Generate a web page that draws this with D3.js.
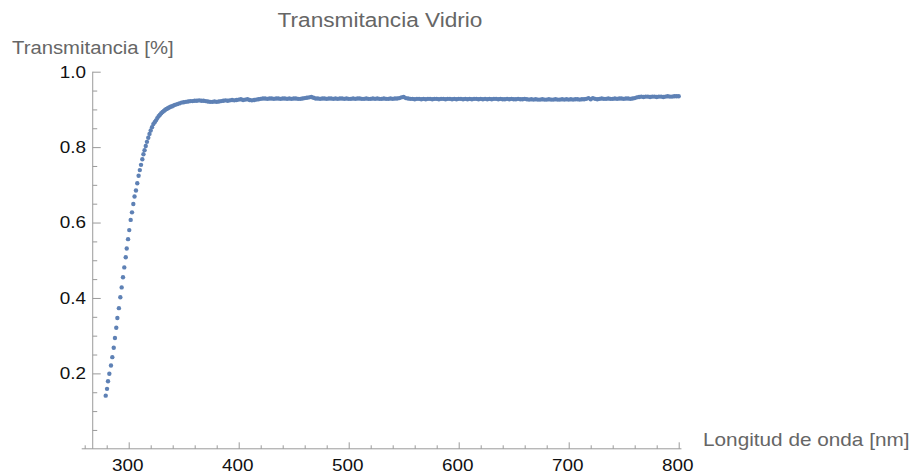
<!DOCTYPE html>
<html>
<head>
<meta charset="utf-8">
<script src="https://cdn.jsdelivr.net/npm/d3@7"></script>
<style>
  body { margin: 0; background: #fff; }
  text { font-family: "Liberation Sans", Arial, sans-serif; }
</style>
</head>
<body>
<div id="chart"></div>
<script>
// rising edge (about 1.2 nm between samples)
const riseWavelength = [279.1, 280.3, 281.2, 282.4, 283.9, 285.1, 286.4, 287.5, 288.7, 289.7,
  291.1, 292.4, 293.6, 294.8, 296.0, 297.3, 298.2, 299.4, 300.5, 301.8,
  303.0, 304.2, 305.3, 306.6, 307.8, 309.0, 310.1, 311.2, 312.4, 313.4,
  314.4, 315.5, 316.6, 317.8, 318.9, 320.0, 321.2, 322.4, 323.6, 324.8,
  326.0, 327.2, 328.4, 329.6, 330.8, 332.0, 333.2, 334.4, 335.6, 336.8,
  338.0, 339.2, 340.4];
const riseTransmittance = [0.141, 0.159, 0.179, 0.199, 0.221, 0.243, 0.268, 0.294, 0.321, 0.347,
  0.373, 0.402, 0.428, 0.455, 0.481, 0.508, 0.531, 0.556, 0.580, 0.607,
  0.627, 0.649, 0.669, 0.685, 0.704, 0.724, 0.739, 0.753, 0.768, 0.781,
  0.792, 0.803, 0.814, 0.825, 0.835, 0.844, 0.853, 0.861, 0.866, 0.871,
  0.877, 0.882, 0.886, 0.890, 0.893, 0.896, 0.899, 0.901, 0.903, 0.905,
  0.907, 0.908, 0.910];

// plateau, every 2 nm
const plateauWavelength = [
  342, 344, 346, 348, 350, 352, 354, 356, 358, 360,
  362, 364, 366, 368, 370, 372, 374, 376, 378, 380,
  382, 384, 386, 388, 390, 392, 394, 396, 398, 400,
  402, 404, 406, 408, 410, 412, 414, 416, 418, 420,
  422, 424, 426, 428, 430, 432, 434, 436, 438, 440,
  442, 444, 446, 448, 450, 452, 454, 456, 458, 460,
  462, 464, 466, 468, 470, 472, 474, 476, 478, 480,
  482, 484, 486, 488, 490, 492, 494, 496, 498, 500,
  502, 504, 506, 508, 510, 512, 514, 516, 518, 520,
  522, 524, 526, 528, 530, 532, 534, 536, 538, 540,
  542, 544, 546, 548, 550, 552, 554, 556, 558, 560,
  562, 564, 566, 568, 570, 572, 574, 576, 578, 580,
  582, 584, 586, 588, 590, 592, 594, 596, 598, 600,
  602, 604, 606, 608, 610, 612, 614, 616, 618, 620,
  622, 624, 626, 628, 630, 632, 634, 636, 638, 640,
  642, 644, 646, 648, 650, 652, 654, 656, 658, 660,
  662, 664, 666, 668, 670, 672, 674, 676, 678, 680,
  682, 684, 686, 688, 690, 692, 694, 696, 698, 700,
  702, 704, 706, 708, 710, 712, 714, 716, 718, 720,
  722, 724, 726, 728, 730, 732, 734, 736, 738, 740,
  742, 744, 746, 748, 750, 752, 754, 756, 758, 760,
  762, 764, 766, 768, 770, 772, 774, 776, 778, 780,
  782, 784, 786, 788, 790, 792, 794, 796, 798, 800];
const plateauTransmittance = [
  0.912, 0.914, 0.916, 0.918, 0.919, 0.920, 0.921, 0.922, 0.922, 0.923,
  0.923, 0.924, 0.923, 0.923, 0.922, 0.921, 0.920, 0.920, 0.921, 0.920,
  0.921, 0.922, 0.923, 0.924, 0.923, 0.924, 0.925, 0.924, 0.925, 0.926,
  0.927, 0.925, 0.926, 0.927, 0.925, 0.924, 0.925, 0.926, 0.927, 0.928,
  0.929, 0.929, 0.928, 0.929, 0.929, 0.928, 0.929, 0.929, 0.928, 0.929,
  0.929, 0.928, 0.929, 0.928, 0.929, 0.929, 0.928, 0.928, 0.929, 0.930,
  0.931, 0.932, 0.933, 0.931, 0.929, 0.929, 0.928, 0.929, 0.929, 0.928,
  0.929, 0.929, 0.928, 0.929, 0.928, 0.929, 0.929, 0.928, 0.929, 0.928,
  0.928, 0.929, 0.928, 0.929, 0.929, 0.928, 0.928, 0.929, 0.928, 0.928,
  0.929, 0.928, 0.929, 0.928, 0.928, 0.929, 0.928, 0.928, 0.929, 0.928,
  0.929, 0.929, 0.930, 0.932, 0.933, 0.930, 0.929, 0.928, 0.928, 0.927,
  0.928, 0.928, 0.927, 0.928, 0.927, 0.928, 0.928, 0.927, 0.928, 0.928,
  0.927, 0.928, 0.928, 0.927, 0.928, 0.928, 0.927, 0.928, 0.927, 0.928,
  0.928, 0.927, 0.928, 0.927, 0.928, 0.927, 0.928, 0.928, 0.927, 0.928,
  0.927, 0.928, 0.927, 0.928, 0.927, 0.928, 0.928, 0.927, 0.928, 0.927,
  0.927, 0.928, 0.927, 0.928, 0.927, 0.927, 0.928, 0.927, 0.927, 0.928,
  0.927, 0.926, 0.927, 0.926, 0.927, 0.926, 0.926, 0.927, 0.926, 0.926,
  0.927, 0.926, 0.926, 0.927, 0.926, 0.926, 0.927, 0.926, 0.927, 0.926,
  0.927, 0.926, 0.927, 0.927, 0.926, 0.927, 0.927, 0.928, 0.930, 0.927,
  0.930, 0.928, 0.927, 0.928, 0.929, 0.928, 0.928, 0.929, 0.928, 0.928,
  0.929, 0.928, 0.929, 0.929, 0.928, 0.929, 0.929, 0.928, 0.929, 0.930,
  0.932, 0.933, 0.934, 0.933, 0.934, 0.934, 0.933, 0.934, 0.934, 0.933,
  0.934, 0.934, 0.933, 0.934, 0.935, 0.934, 0.934, 0.935, 0.935, 0.935];

const xMajorTicks = [300, 400, 500, 600, 700, 800];
const xMinorTicks = [260, 280, 320, 340, 360, 380, 420, 440, 460, 480, 520, 540, 560, 580,
  620, 640, 660, 680, 720, 740, 760, 780];
const yMajorTicks = [0.2, 0.4, 0.6, 0.8, 1.0];
const yMinorTicks = [0.05, 0.1, 0.15, 0.25, 0.3, 0.35, 0.45, 0.5, 0.55, 0.65, 0.7, 0.75, 0.85, 0.9, 0.95];

const chartTitle = "Transmitancia Vidrio";
const xLabel = "Longitud de onda [nm]";
const yLabel = "Transmitancia [%]";

// text in the picture is drawn a little wider than the font
const stretch = 1.16;
const axisColor = "#9a9a9a";
const labelColor = "#666";
const dotColor = "#5e81b5";

const width = 915, height = 475;

const x = d3.scaleLinear().domain([260, 800]).range([84.7, 678.7]);
const y = d3.scaleLinear().domain([0, 1]).range([448.8, 71.7]);

const svg = d3.select("#chart").append("svg")
  .attr("width", width)
  .attr("height", height);

function wideText(g, tx, ty, str, size, anchor, color) {
  return g.append("text")
    .attr("transform", `translate(${tx},${ty}) scale(${stretch},1)`)
    .attr("text-anchor", anchor)
    .attr("font-size", size)
    .attr("fill", color)
    .text(str);
}

// axis lines
svg.append("line")
  .attr("x1", x(257.3)).attr("x2", x(802.5))
  .attr("y1", y(0)).attr("y2", y(0))
  .attr("stroke", axisColor).attr("stroke-width", 1);
svg.append("line")
  .attr("x1", x(267.3)).attr("x2", x(267.3))
  .attr("y1", y(0)).attr("y2", y(1))
  .attr("stroke", axisColor).attr("stroke-width", 1);

// x ticks, pointing up into the plot
const xAxisG = svg.append("g").attr("transform", `translate(0,${y(0)})`);
xAxisG.append("g")
  .call(d3.axisBottom(x).tickValues(xMinorTicks).tickSize(-3.5).tickFormat(""))
  .call(g => g.select(".domain").remove());
xAxisG.append("g")
  .call(d3.axisBottom(x).tickValues(xMajorTicks).tickSize(-6.5).tickFormat(""))
  .call(g => g.select(".domain").remove());
xAxisG.selectAll(".tick line").attr("stroke", axisColor);
xMajorTicks.forEach(v => wideText(xAxisG, x(v) - 1, 22.4, d3.format("d")(v), 16.3, "middle", "#111"));

// y ticks, pointing right into the plot
const yAxisG = svg.append("g").attr("transform", `translate(${x(267.3)},0)`);
yAxisG.append("g")
  .call(d3.axisRight(y).tickValues(yMinorTicks).tickSize(4.5).tickFormat(""))
  .call(g => g.select(".domain").remove());
yAxisG.append("g")
  .call(d3.axisRight(y).tickValues(yMajorTicks).tickSize(8).tickFormat(""))
  .call(g => g.select(".domain").remove());
yAxisG.selectAll(".tick line").attr("stroke", axisColor);
yMajorTicks.forEach(v => wideText(yAxisG, -6.7, y(v) + 5.8, d3.format(".1f")(v), 16.3, "end", "#111"));

// titles
wideText(svg, 380, 27, chartTitle, 19.5, "middle", labelColor);
wideText(svg, 12, 54, yLabel, 17.5, "start", labelColor);
wideText(svg, 703, 446, xLabel, 17.9, "start", labelColor);

// data points
const points = riseWavelength.map((w, i) => ({ w, t: riseTransmittance[i] }))
  .concat(plateauWavelength.map((w, i) => ({ w, t: plateauTransmittance[i] })));

svg.append("g")
  .selectAll("circle")
  .data(points)
  .join("circle")
  .attr("cx", d => x(d.w))
  .attr("cy", d => y(d.t))
  .attr("r", 2.2)
  .attr("fill", dotColor);
</script>
</body>
</html>
